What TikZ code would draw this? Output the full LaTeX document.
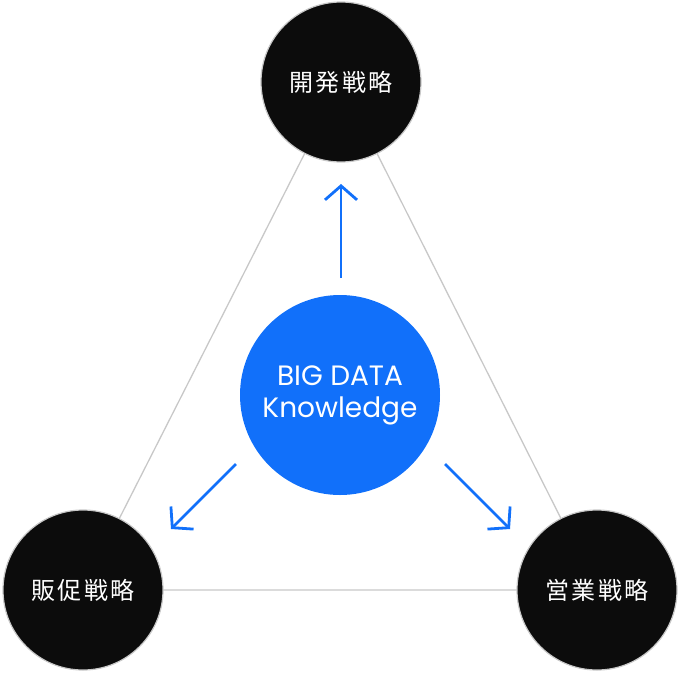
\documentclass[tikz,border=0pt]{standalone}
\usepackage{fontspec}
\newfontfamily\jpfont{Noto Sans CJK JP}[LetterSpace=11]
\newfontfamily\enfont{Poppins}
\usetikzlibrary{arrows.meta}
\definecolor{nodeblack}{RGB}{12,12,12}
\definecolor{ringgray}{RGB}{200,200,200}
\definecolor{hubblue}{RGB}{17,112,250}
\tikzset{
  strategy/.style={circle, fill=nodeblack, draw=ringgray, line width=1.2pt,
    minimum size=160pt, inner sep=0pt, text=white,
    font=\jpfont\fontsize{24}{28}\selectfont},
  hub/.style={circle, fill=hubblue, minimum size=200pt, inner sep=0pt,
    text=white, align=center, font=\enfont\fontsize{28}{32}\selectfont},
  link/.style={draw=ringgray, line width=1.3pt},
  flow/.style={draw=hubblue, line width=2.8pt,
    -{Straight Barb[length=14pt, width=32pt, line width=2.8pt]}},
}
\begin{document}
\begin{tikzpicture}[x=1pt, y=-1pt]
  \useasboundingbox (0,0) rectangle (680,672);
  % strategy circles at the triangle corners
  \coordinate (ptop) at (341,82);
  \coordinate (pleft) at (83,590);
  \coordinate (pright) at (597,590);
  \draw[link] (ptop) -- (pleft) -- (pright) -- cycle;
  \node[strategy] (dev) at (ptop) {開発戦略};
  \node[strategy] (promo) at (pleft) {販促戦略};
  \node[strategy] (sales) at (pright) {営業戦略};
  % central knowledge hub
  \node[hub] (hub) at (340,395) {BIG DATA\\Knowledge};
  % arrows pointing from the hub toward each strategy
  \coordinate (up0) at (341,278);
  \coordinate (up1) at (341,184);
  \coordinate (dl0) at (236,464);
  \coordinate (dl1) at (171,529);
  \coordinate (dr0) at (445,464);
  \coordinate (dr1) at (510,529);
  \draw[flow] (up0) -- (up1);
  \draw[flow] (dl0) -- (dl1);
  \draw[flow] (dr0) -- (dr1);
\end{tikzpicture}
\end{document}
